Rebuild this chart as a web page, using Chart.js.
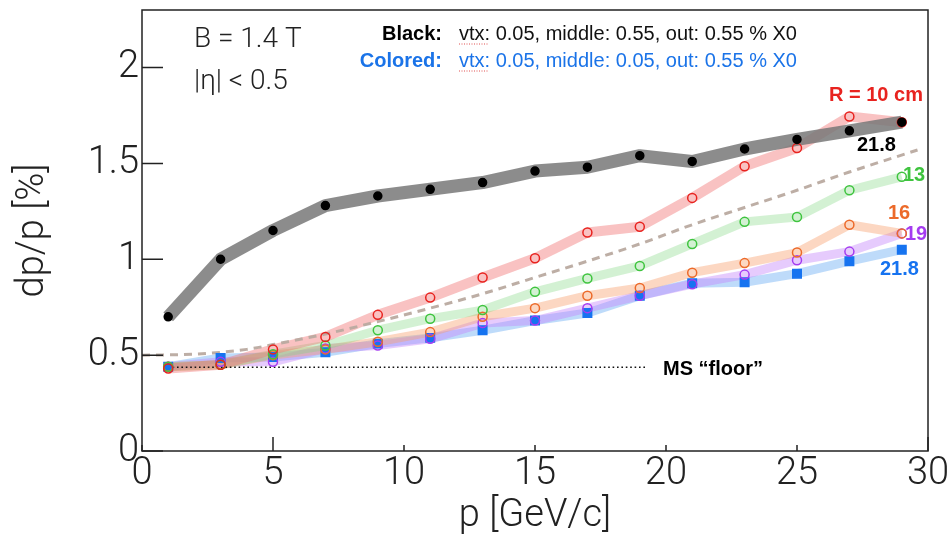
<!DOCTYPE html>
<html>
<head>
<meta charset="utf-8">
<script src="https://cdn.jsdelivr.net/npm/chart.js@4/dist/chart.umd.min.js"></script>
<style>
  html, body { margin: 0; padding: 0; background: #fff; }
  #wrap { width: 947px; height: 539px; }
</style>
</head>
<body>
<div id="wrap"><canvas id="resChart" width="947" height="539"></canvas></div>
<script>
// momentum points [GeV/c]
const pVals = [1, 3, 5, 7, 9, 11, 13, 15, 17, 19, 21, 23, 25, 27, 29];

// dp/p [%] - black: vtx 0.05, middle 0.55, out 0.55 % X0
const blackVals = [0.70, 1.00, 1.15, 1.28, 1.33, 1.365, 1.40, 1.46, 1.48, 1.54, 1.51, 1.575, 1.625, 1.67, 1.715];

// colored: vtx 0.05, middle 0.05, out 0.55 % X0, by outer radius
const r10Vals = [0.43, 0.45, 0.53, 0.595, 0.71, 0.80, 0.905, 1.005, 1.14, 1.17, 1.32, 1.485, 1.58, 1.745, 1.715];
const r13Vals = [0.44, 0.45, 0.505, 0.55, 0.63, 0.69, 0.735, 0.83, 0.90, 0.965, 1.08, 1.195, 1.22, 1.36, 1.43];
const r16Vals = [0.44, 0.45, 0.50, 0.53, 0.57, 0.62, 0.70, 0.745, 0.81, 0.85, 0.93, 0.98, 1.035, 1.18, 1.135];
const r19Vals = [0.44, 0.465, 0.465, 0.535, 0.55, 0.585, 0.667, 0.68, 0.745, 0.81, 0.87, 0.92, 0.995, 1.04, 1.135];
const r218Vals = [0.44, 0.485, 0.49, 0.515, 0.56, 0.59, 0.63, 0.68, 0.72, 0.81, 0.875, 0.88, 0.925, 0.99, 1.05];

// dashed reference curve
const curveP = [0, 2, 4, 5, 7, 9, 11, 13, 15, 17, 19, 21, 23, 25, 27, 29.6];
const curveVals = [0.50, 0.505, 0.53, 0.555, 0.61, 0.675, 0.745, 0.82, 0.905, 0.99, 1.08, 1.18, 1.27, 1.36, 1.455, 1.57];

// MS floor
const floorP = [1, 19.2];
const floorVals = [0.437, 0.437];

// axis ticks
const xTickVals = [0, 5, 10, 15, 20, 25, 30];
const yTickVals = [0, 0.5, 1, 1.5, 2];

const pts = (xs, ys) => xs.map((x, i) => ({ x: x, y: ys[i] }));

function bandSet(vals, color, width) {
    return {
        data: pts(pVals, vals),
        borderColor: color,
        borderWidth: width,
        pointRadius: 0,
        fill: false,
        borderJoinStyle: 'round',
        order: 2
    };
}

function markerSet(vals, color, style, filled, radius) {
    return {
        data: pts(pVals, vals),
        showLine: false,
        pointStyle: style,
        pointRadius: radius,
        pointBorderColor: color,
        pointBackgroundColor: filled ? color : 'rgba(0,0,0,0)',
        pointBorderWidth: 1.5,
        order: 0
    };
}

const datasets = [
    bandSet(blackVals, 'rgba(120,120,120,0.85)', 13),
    bandSet(r10Vals, 'rgba(240,110,110,0.42)', 10),
    bandSet(r13Vals, 'rgba(130,215,130,0.35)', 9),
    bandSet(r16Vals, 'rgba(248,160,110,0.42)', 9),
    bandSet(r19Vals, 'rgba(195,130,250,0.42)', 9),
    bandSet(r218Vals, 'rgba(110,175,245,0.45)', 9),
    {
        data: pts(curveP, curveVals),
        borderColor: 'rgba(185,170,160,0.95)',
        borderWidth: 3,
        borderDash: [8, 6],
        pointRadius: 0,
        cubicInterpolationMode: 'monotone',
        order: 1
    },
    {
        data: pts(floorP, floorVals),
        borderColor: '#111',
        borderWidth: 1.6,
        borderDash: [1.6, 2.8],
        pointRadius: 0,
        order: 1
    },
    markerSet(blackVals, '#000', 'circle', true, 4),
    markerSet(r10Vals, '#e8231f', 'circle', false, 4.5),
    markerSet(r13Vals, '#3fc43f', 'circle', false, 4.5),
    markerSet(r16Vals, '#ec6a2a', 'circle', false, 4.5),
    markerSet(r19Vals, '#a53cf0', 'circle', false, 4.5),
    markerSet(r218Vals, '#1673f0', 'rect', true, 6)
];

// frame, inward ticks and text labels
const framePlugin = {
    id: 'frame',
    afterDraw(chart) {
        const ctx = chart.ctx;
        const a = chart.chartArea;
        const xs = chart.scales.x, ys = chart.scales.y;
        ctx.save();
        ctx.strokeStyle = '#222';
        ctx.lineWidth = 1.5;
        ctx.strokeRect(a.left, a.top, a.right - a.left, a.bottom - a.top);
        ctx.beginPath();
        yTickVals.forEach(v => {
            const py = ys.getPixelForValue(v);
            ctx.moveTo(a.left, py);
            ctx.lineTo(a.left + 21, py);
        });
        xTickVals.forEach(v => {
            const px = xs.getPixelForValue(v);
            const len = (v === 5 || v === 30) ? 14 : 6;
            ctx.moveTo(px, a.bottom);
            ctx.lineTo(px, a.bottom - len);
        });
        ctx.stroke();

        ctx.textBaseline = 'middle';
        ctx.fillStyle = '#222';
        ctx.textAlign = 'left';
        ctx.font = '300 28px Roboto';
        ctx.fillText('B = 1.4 T', 194, 40);
        ctx.fillText('|\u03b7| < 0.5', 194, 82);

        ctx.textAlign = 'right';
        ctx.font = 'bold 20px "Liberation Sans"';
        ctx.fillStyle = '#000';
        ctx.fillText('Black:', 442, 34);
        ctx.fillStyle = '#1a73e8';
        ctx.fillText('Colored:', 442, 61);
        ctx.textAlign = 'left';
        ctx.font = '20px "Liberation Sans"';
        ctx.fillStyle = '#111';
        ctx.fillText('vtx: 0.05, middle: 0.55, out: 0.55 % X0', 459, 34);
        ctx.fillStyle = '#1a73e8';
        ctx.fillText('vtx: 0.05, middle: 0.05, out: 0.55 % X0', 459, 61);
        // spell-check underline under "vtx"
        ctx.strokeStyle = '#e05050';
        ctx.lineWidth = 1;
        ctx.setLineDash([1, 1.5]);
        ctx.beginPath();
        ctx.moveTo(459, 44); ctx.lineTo(488, 44);
        ctx.moveTo(459, 71); ctx.lineTo(488, 71);
        ctx.stroke();
        ctx.setLineDash([]);

        ctx.font = 'bold 20px "Liberation Sans"';
        ctx.fillStyle = '#000';
        ctx.fillText('MS \u201cfloor\u201d', 663, 369);
        ctx.fillStyle = '#e8231f';
        ctx.fillText('R = 10 cm', 829, 95);
        ctx.fillStyle = '#000';
        ctx.fillText('21.8', 857, 145);
        ctx.fillStyle = '#3fc43f';
        ctx.fillText('13', 903, 175);
        ctx.fillStyle = '#ec6a2a';
        ctx.fillText('16', 888, 213);
        ctx.fillStyle = '#a53cf0';
        ctx.fillText('19', 905, 234);
        ctx.fillStyle = '#1673f0';
        ctx.fillText('21.8', 880, 269);
        ctx.restore();
    }
};

const tickFont = { family: 'Roboto', size: 38, weight: 300 };

new Chart(document.getElementById('resChart'), {
    type: 'line',
    data: { datasets: datasets },
    options: {
        responsive: false,
        devicePixelRatio: 1,
        animation: false,
        layout: { padding: { top: 10, right: 19, left: 0, bottom: 0 } },
        plugins: {
            legend: { display: false },
            tooltip: { enabled: false }
        },
        scales: {
            x: {
                type: 'linear',
                min: 0,
                max: 30,
                afterFit(scale) {
                    scale.height = 88;
                    scale.paddingLeft = 0;
                    scale.paddingRight = 0;
                },
                afterBuildTicks(scale) { scale.ticks = xTickVals.map(v => ({ value: v })); },
                grid: { display: false, drawTicks: false },
                border: { display: false },
                ticks: { font: tickFont, color: '#222', padding: 1, maxRotation: 0, callback: v => String(v) },
                title: { display: true, text: 'p [GeV/c]', color: '#222', font: tickFont, padding: { top: 0, bottom: 0 } }
            },
            y: {
                type: 'linear',
                min: 0,
                max: 2.3,
                afterFit(scale) {
                    scale.width = 142;
                    scale.paddingTop = 0;
                    scale.paddingBottom = 0;
                },
                afterBuildTicks(scale) { scale.ticks = yTickVals.map(v => ({ value: v })); },
                grid: { display: false, drawTicks: false },
                border: { display: false },
                ticks: { font: tickFont, color: '#222', padding: 3, callback: v => String(v) },
                title: { display: true, text: 'dp/p [%]', color: '#222', font: tickFont, padding: { top: 11, bottom: 0 } }
            }
        }
    },
    plugins: [framePlugin]
});
</script>
</body>
</html>
